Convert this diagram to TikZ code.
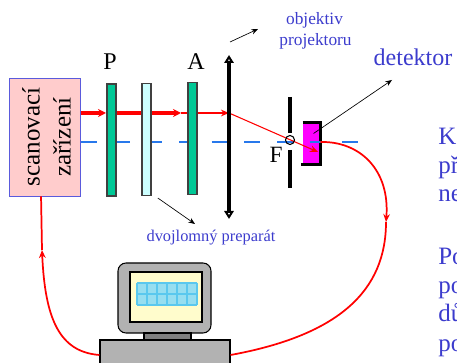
\documentclass[tikz,border=0pt]{standalone}
\usepackage{fontspec}
\setmainfont{Liberation Serif}
\usetikzlibrary{arrows.meta,positioning}

\definecolor{textblue}{RGB}{60,60,205}
\definecolor{plategreen}{RGB}{0,200,150}
\definecolor{platecyan}{RGB}{204,255,255}
\definecolor{scanpink}{RGB}{255,204,204}
\definecolor{scanborder}{RGB}{90,90,220}
\definecolor{axisblue}{RGB}{40,120,235}
\definecolor{cellblue}{RGB}{150,222,240}
\definecolor{cellline}{RGB}{90,200,238}
\definecolor{detpink}{RGB}{255,0,255}

\begin{document}
\begin{tikzpicture}[x=0.75pt, y=-0.75pt,
    device/.style={rectangle, draw=scanborder, fill=scanpink, minimum width=53.25pt, minimum height=88.5pt, inner sep=0pt},
    plate/.style={rectangle, draw=black!75, line width=0.8pt, minimum width=6.75pt, minimum height=84pt, inner sep=0pt},
    beam/.style={red, line width=0.8pt, -{Stealth[length=6pt,width=5pt]}},
    strongbeam/.style={beam, line width=2.4pt, -{Stealth[length=6pt,width=6pt]}},
    cable/.style={red, line width=1.3pt},
    pointer/.style={->, >={Stealth[length=5pt,width=4pt]}, line width=0.5pt},
    lens/.style={line width=2.6pt, {Triangle[open,length=6pt,width=7pt,line width=1.6pt]}-{Triangle[open,length=6pt,width=7pt,line width=1.6pt]}},
    bar/.style={line width=2.6pt},
    axis/.style={axisblue, line width=0.9pt, dash pattern=on 12pt off 12.5pt},
    note/.style={text=textblue, inner sep=0pt},
    big/.style={font=\fontsize{18}{20}\selectfont, inner sep=0pt},
    box/.style={rectangle, draw=black, line width=0.8pt, inner sep=0pt}
]
    \clip (0,0) rectangle (457,363);

    % Scanning unit
    \node[device] (scan) at (44.5,137) {};
    \node[rotate=90, align=center, inner sep=0pt, font=\fontsize{18.75}{23.25}\selectfont] (scantext) at (46.5,137) {scanovací\\zařízení};

    % Detector
    \node[fill=detpink, minimum width=12.75pt, minimum height=30.75pt, inner sep=0pt] (det) at (311.5,143.5) {};
    \draw[line width=2.2pt] (det.north west) -- (det.north east) -- (det.south east) -- ([xshift=-1.5pt]det.south west);

    % Optical axis
    \coordinate (axisL) at (81,142);
    \coordinate (axisR) at (365,142);
    \draw[axis] (axisL) -- (axisR);

    % Beam behind the plates
    \coordinate (src) at (81,113);
    \coordinate (lensT) at (229,55);
    \coordinate (lensB) at (229,219);
    \coordinate (hit) at (318,152);
    \draw[strongbeam] (src) -- (src -| 106,0);
    \draw[strongbeam] (src -| 117,0) -- (src -| 181,0) coordinate (beamend);
    \draw[red, line width=0.8pt] (beamend) -- (src -| 188,0);
    \draw[beam] (src -| 197,0) -- (src -| lensT);
    \draw[beam] (src -| lensT) -- (hit);

    % Polarizer, sample, analyzer
    \node[plate, fill=plategreen] (P) at (111.5,140) {};
    \node[plate, fill=platecyan] (prep) at (146.5,139.5) {};
    \node[plate, fill=plategreen] (A) at (192.5,138.5) {};
    \node[big] (Plabel) at (110,62) {P};
    \node[big] (Alabel) at (196,62) {A};

    % Projection lens
    \draw[lens] (lensB) -- (lensT);

    % Pinhole
    \draw[bar] (290,97) coordinate (pinT) -- (290,133);
    \draw[bar] (290,150) -- (290,188) coordinate (pinB);
    \node[circle, draw, line width=0.8pt, minimum size=6.75pt, inner sep=0pt] (focus) at (290,140) {};
    \node[font=\fontsize{17.5}{20}\selectfont, inner sep=0pt] (Flabel) at (276,155) {F};

    % Labels
    \node[note, font=\fontsize{13}{15}\selectfont] (objlabel) at (314.5,20) {objektiv};
    \node[note, font=\fontsize{13}{15}\selectfont] (projlabel) at (315.5,41) {projektoru};
    \node[note, font=\fontsize{18}{20}\selectfont] (detlabel) at (413,57) {detektor};
    \node[note, font=\fontsize{12.3}{14}\selectfont] (preplabel) at (211,238) {dvojlomný preparát};

    \coordinate (objtail) at (230,42);
    \coordinate (objtip) at (258,29);
    \coordinate (detpt) at (392,80);
    \coordinate (preppt) at (195,224);
    \draw[pointer] (objtail) -- (objtip);
    \draw[pointer] ([shift={(1.5pt,7.5pt)}]det.center) -- (detpt);
    \draw[pointer] ([xshift=8.5pt,yshift=-1.5pt]prep.south) -- (preppt);

    % Computer
    \node[box, fill=black!30, rounded corners=6pt, minimum width=69.75pt, minimum height=52.5pt] (monitor) at (164.5,298) {};
    \node[box, fill=yellow!20, minimum width=54pt, minimum height=37.5pt] (screen) at (166,297) {};
    \fill[cellblue] (137,283) rectangle (197,305);
    \foreach \x in {137,147,...,197}
        \draw[cellline, line width=0.8pt] (\x,283) -- (\x,305);
    \foreach \y in {283,294,305}
        \draw[cellline, line width=0.8pt] (137,\y) -- (197,\y);
    \node[box, fill=black!50, minimum width=35.25pt, minimum height=5.25pt] (neck) at (167.5,336.5) {};
    \node[box, fill=black!30, minimum width=97.5pt, minimum height=22.5pt] (base) at (165,355) {};

    % Signal loop
    \draw[cable, -{Stealth[length=6pt,width=5pt]}] (det.east |- axisR) .. controls (360,141) and (390,170) .. (386,222) coordinate (loopR);
    \draw[cable] (loopR) .. controls (386,290) and (340,335) .. (base.east);
    \draw[cable, -{Stealth[length=6pt,width=5pt]}] (base.west) .. controls (60,352) and (45,320) .. (42,250) coordinate (loopL);
    \draw[cable] (loopL) -- ([xshift=-2.6pt]scan.south);

    % Text on the right
    \node[note, anchor=base west, font=\fontsize{18.75}{21}\selectfont] (t1) at (438,145) {K};
    \node[note, anchor=base west, font=\fontsize{18.75}{21}\selectfont] (t2) at (438,174) {př};
    \node[note, anchor=base west, font=\fontsize{18.75}{21}\selectfont] (t3) at (438,202) {ne};
    \node[note, anchor=base west, font=\fontsize{18.75}{21}\selectfont] (t4) at (438,265) {Po};
    \node[note, anchor=base west, font=\fontsize{18.75}{21}\selectfont] (t5) at (438,294) {po};
    \node[note, anchor=base west, font=\fontsize{18.75}{21}\selectfont] (t6) at (438,322) {dů};
    \node[note, anchor=base west, font=\fontsize{18.75}{21}\selectfont] (t7) at (438,351) {po};
\end{tikzpicture}
\end{document}
